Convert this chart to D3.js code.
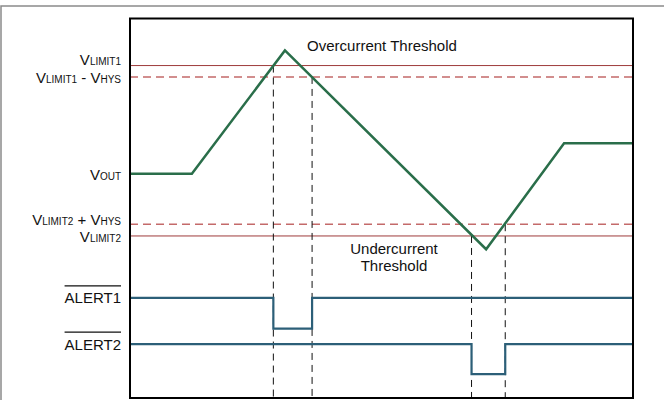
<!DOCTYPE html>
<html>
<head>
<meta charset="utf-8">
<script src="https://cdn.jsdelivr.net/npm/d3@7"></script>
<style>
  body { margin: 0; background: #fff; }
  svg { display: block; font-family: "Liberation Sans", Arial, sans-serif; }
</style>
</head>
<body>
<div class="chart"></div>
<script>
// waveform data (time and level in arbitrary units, 0..100)
var voutTime = [0, 12.3, 30.8, 70.8, 86.3, 100];
var voutLevel = [59.1, 59.1, 91.6, 39.2, 67.1, 67.1];

// threshold levels
var thresholdNames = ["VLIMIT1", "VLIMIT1 - VHYS", "VLIMIT2 + VHYS", "VLIMIT2"];
var thresholdLevel = [87.6, 84.6, 45.8, 42.7];
var thresholdDashed = [false, true, true, false];

// trip points where the alert pins change
var tripTime = [28.5, 36.2, 67.9, 74.6];
var tripLevel = [87.6, 84.6, 42.7, 45.8];

// alert outputs
var alertNames = ["ALERT1", "ALERT2"];
var alertHigh = [26.4, 14.2];
var alertLow = [18.3, 6.3];
var alertStart = [28.5, 67.9];
var alertEnd = [36.2, 74.6];

var svgWidth = 664, svgHeight = 400;
var margin = {top: 18.5, right: 31, bottom: 2, left: 130};

var svg = d3.select(".chart").append("svg")
    .attr("width", svgWidth)
    .attr("height", svgHeight);

var x = d3.scaleLinear().domain([0, 100]).range([margin.left, svgWidth - margin.right]);
var y = d3.scaleLinear().domain([0, 100]).range([svgHeight - margin.bottom, margin.top]);

// outer gray frame
svg.append("path")
    .attr("d", "M1,400 V6 H664")
    .attr("fill", "none")
    .attr("stroke", "#8a8a8a")
    .attr("stroke-width", 1.5);

// threshold lines
thresholdLevel.forEach(function(lv, i) {
    svg.append("line")
        .attr("x1", x(0)).attr("x2", x(100))
        .attr("y1", y(lv)).attr("y2", y(lv))
        .attr("stroke", thresholdDashed[i] ? "#c46a6a" : "#9e3b3b")
        .attr("stroke-width", thresholdDashed[i] ? 1.4 : 1)
        .attr("stroke-dasharray", thresholdDashed[i] ? "8,5" : null);
});

// vertical dashed markers
tripTime.forEach(function(t, i) {
    svg.append("line")
        .attr("x1", x(t)).attr("x2", x(t))
        .attr("y1", y(tripLevel[i])).attr("y2", y(0))
        .attr("stroke", "#111")
        .attr("stroke-width", 1)
        .attr("stroke-dasharray", "7,5");
});

// VOUT waveform
var line = d3.line().x(d => x(d[0])).y(d => y(d[1]));
svg.append("path")
    .datum(d3.zip(voutTime, voutLevel))
    .attr("d", line)
    .attr("fill", "none")
    .attr("stroke", "#2a6e4a")
    .attr("stroke-width", 2.5)
    .attr("stroke-linejoin", "miter");

// alert waveforms
alertNames.forEach(function(name, i) {
    var pts = [[0, alertHigh[i]], [alertStart[i], alertHigh[i]], [alertStart[i], alertLow[i]],
               [alertEnd[i], alertLow[i]], [alertEnd[i], alertHigh[i]], [100, alertHigh[i]]];
    svg.append("path")
        .datum(pts)
        .attr("d", line)
        .attr("fill", "none")
        .attr("stroke", "#2c5f78")
        .attr("stroke-width", 2.2);
});

// plot box
svg.append("rect")
    .attr("x", x(0)).attr("y", y(100))
    .attr("width", x(100) - x(0))
    .attr("height", y(0) - y(100))
    .attr("fill", "none")
    .attr("stroke", "#000")
    .attr("stroke-width", 2);

// left labels with subscripts
var labelX = 121;
function subLabel(parts, ypos) {
    var t = svg.append("text")
        .attr("x", labelX).attr("y", ypos)
        .attr("text-anchor", "end")
        .attr("font-size", 15)
        .attr("fill", "#111");
    parts.forEach(function(p) {
        t.append("tspan")
            .attr("font-size", p.sub ? 10 : 15)
            .text(p.s);
    });
    return t;
}

subLabel([{s: "V"}, {s: "LIMIT1", sub: true}], y(thresholdLevel[0]) - 1);
subLabel([{s: "V"}, {s: "LIMIT1", sub: true}, {s: " - V"}, {s: "HYS", sub: true}], y(thresholdLevel[1]) + 6);
subLabel([{s: "V"}, {s: "OUT", sub: true}], y(voutLevel[0]) + 6);
subLabel([{s: "V"}, {s: "LIMIT2", sub: true}, {s: " + V"}, {s: "HYS", sub: true}], y(thresholdLevel[2]) + 1);
subLabel([{s: "V"}, {s: "LIMIT2", sub: true}], y(thresholdLevel[3]) + 6);

alertNames.forEach(function(name, i) {
    var t = svg.append("text")
        .attr("x", labelX).attr("y", y(alertHigh[i]) + 5.5)
        .attr("text-anchor", "end")
        .attr("font-size", 15)
        .attr("fill", "#111")
        .text(name);
    var w = t.node().getComputedTextLength();
    svg.append("line")
        .attr("x1", labelX - w).attr("x2", labelX)
        .attr("y1", y(alertHigh[i]) - 12).attr("y2", y(alertHigh[i]) - 12)
        .attr("stroke", "#111")
        .attr("stroke-width", 1.2);
});

// annotations
svg.append("text")
    .attr("x", 382).attr("y", 51)
    .attr("text-anchor", "middle")
    .attr("font-size", 15)
    .attr("fill", "#111")
    .text("Overcurrent Threshold");

["Undercurrent", "Threshold"].forEach(function(s, i) {
    svg.append("text")
        .attr("x", 394).attr("y", 254 + i * 17)
        .attr("text-anchor", "middle")
        .attr("font-size", 15)
        .attr("fill", "#111")
        .text(s);
});
</script>
</body>
</html>
